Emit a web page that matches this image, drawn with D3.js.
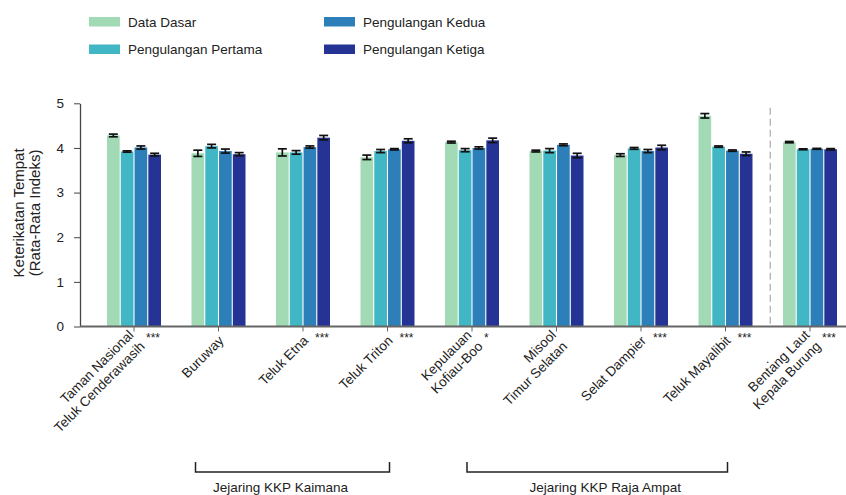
<!DOCTYPE html>
<html>
<head>
<meta charset="utf-8">
<script src="https://cdn.jsdelivr.net/npm/d3@7/dist/d3.min.js"></script>
<style>
  html, body { margin: 0; padding: 0; background: #fff; }
  svg text { font-family: "Liberation Sans", Arial, sans-serif; fill: #222; }
</style>
</head>
<body>
<div id="chart"></div>
<script>
// ---------- DATA ----------
const categories = [
  ["Taman Nasional", "Teluk Cenderawasih"],
  ["Buruway"],
  ["Teluk Etna"],
  ["Teluk Triton"],
  ["Kepulauan", "Kofiau-Boo"],
  ["Misool", "Timur Selatan"],
  ["Selat Dampier"],
  ["Teluk Mayalibit"],
  ["Bentang Laut", "Kepala Burung"]
];
const seriesNames = ["Data Dasar", "Pengulangan Pertama", "Pengulangan Kedua", "Pengulangan Ketiga"];
const seriesColors = ["#a1dab4", "#41b6c4", "#2c7fb8", "#253494"];

const dataDasar  = [4.28, 3.88, 3.90, 3.79, 4.13, 3.93, 3.84, 4.72, 4.13];
const pertama    = [3.92, 4.04, 3.90, 3.93, 3.95, 3.94, 3.99, 4.03, 3.97];
const kedua      = [4.01, 3.93, 4.02, 3.97, 4.00, 4.07, 3.93, 3.94, 3.98];
const ketiga     = [3.85, 3.86, 4.23, 4.16, 4.17, 3.83, 4.01, 3.87, 3.97];

const errDasar   = [0.03, 0.07, 0.08, 0.05, 0.02, 0.02, 0.03, 0.05, 0.015];
const errPertama = [0.015, 0.04, 0.04, 0.035, 0.035, 0.045, 0.02, 0.015, 0.01];
const errKedua   = [0.035, 0.045, 0.025, 0.015, 0.025, 0.02, 0.035, 0.015, 0.01];
const errKetiga  = [0.03, 0.035, 0.05, 0.045, 0.05, 0.05, 0.05, 0.04, 0.015];

const significance = ["***", "", "***", "***", "*", "", "***", "***", "***"];
const yTicks = [0, 1, 2, 3, 4, 5];
const yTitle = ["Keterikatan Tempat", "(Rata-Rata Indeks)"];
const groupNames = ["Jejaring KKP Kaimana", "Jejaring KKP Raja Ampat"];
const groupFrom = [1, 4];
const groupTo = [3, 7];

const values = [dataDasar, pertama, kedua, ketiga];
const errors = [errDasar, errPertama, errKedua, errKetiga];

// ---------- LAYOUT ----------
const W = 846, H = 495;
const svg = d3.select("#chart").append("svg").attr("width", W).attr("height", H);

const yAxisX = 80;
const y = d3.scaleLinear().domain([0, 5]).range([326.5, 103.3]);
const idx = d3.range(categories.length);
const x0 = d3.scaleBand().domain(idx).range([91.75, 852.25]).padding(0);
const groupW = 54;
const x1 = d3.scaleBand().domain(d3.range(4))
  .range([(x0.bandwidth() - groupW) / 2, (x0.bandwidth() + groupW) / 2])
  .paddingInner(0.08).paddingOuter(0);
const cxOf = i => x0(i) + x0.bandwidth() / 2;

// ---------- BARS ----------
const g = svg.append("g");
idx.forEach(i => {
  const gg = g.append("g").attr("transform", `translate(${x0(i)},0)`);
  d3.range(4).forEach(s => {
    const v = values[s][i];
    gg.append("rect")
      .attr("x", x1(s)).attr("width", x1.bandwidth())
      .attr("y", y(v)).attr("height", y(0) - y(v))
      .attr("fill", seriesColors[s]);
  });
  d3.range(4).forEach(s => {
    const v = values[s][i], e = errors[s][i];
    const cx = x1(s) + x1.bandwidth() / 2;
    const hw = 4.5;
    const eb = gg.append("g").attr("stroke", "#111").attr("stroke-width", 1.7).attr("fill", "none");
    eb.append("line").attr("x1", cx).attr("x2", cx).attr("y1", y(v - e)).attr("y2", y(v + e));
    eb.append("line").attr("x1", cx - hw).attr("x2", cx + hw).attr("y1", y(v + e)).attr("y2", y(v + e));
    eb.append("line").attr("x1", cx - hw).attr("x2", cx + hw).attr("y1", y(v - e)).attr("y2", y(v - e));
  });
});

// ---------- Y AXIS ----------
const yAxis = d3.axisLeft(y).tickValues(yTicks).tickFormat(d3.format("d")).tickSize(6).tickPadding(10).tickSizeOuter(0);
const ya = svg.append("g").attr("transform", `translate(${yAxisX},0)`).call(yAxis);
ya.select(".domain").attr("stroke", "#444").attr("stroke-width", 1.3);
ya.selectAll(".tick line").attr("stroke", "#444");
ya.selectAll(".tick text").style("font-size", "13.5px").attr("fill", "#222")
  .style("font-family", "'Liberation Sans', Arial, sans-serif");

// ---------- X AXIS ----------
const xa = svg.append("g").attr("transform", `translate(0,${y(0)})`)
  .call(d3.axisBottom(x0).tickSize(5).tickSizeOuter(0).tickFormat(""));
xa.select(".domain").remove();
xa.selectAll(".tick line").attr("stroke", "#666");
svg.append("line").attr("x1", yAxisX).attr("x2", W).attr("y1", y(0)).attr("y2", y(0))
  .attr("stroke", "#666").attr("stroke-width", 1.8);

// category labels
idx.forEach(i => {
  const cx = cxOf(i);
  const lines = categories[i];
  const t = svg.append("text")
    .attr("transform", `translate(${cx + 6},${y(0) + 15}) rotate(-45)`)
    .attr("text-anchor", "end").style("font-size", "13.5px");
  lines.forEach((ln, k) => {
    t.append("tspan").attr("x", 0).attr("y", (k - (lines.length - 1) / 2) * 16).text(ln);
  });
  if (significance[i]) {
    svg.append("text").attr("x", cx + 12).attr("y", y(0) + 15)
      .style("font-size", "12px").attr("text-anchor", "start").text(significance[i]);
  }
});

// stray dot near last category
svg.append("text").attr("x", x0(8)).attr("y", y(0) + 36)
  .attr("text-anchor", "middle").style("font-size", "12px").text(".");

// dashed separator
const sepX = (cxOf(7) + cxOf(8)) / 2 + 2.5;
svg.append("line").attr("x1", sepX).attr("x2", sepX).attr("y1", y(4.9)).attr("y2", y(0))
  .attr("stroke", "#aaa").attr("stroke-width", 1.2).attr("stroke-dasharray", "7,4");

// ---------- Y TITLE ----------
const yt = svg.append("text").attr("transform", `translate(0,${(y(0) + y(5)) / 2 - 2}) rotate(-90)`)
  .attr("text-anchor", "middle").style("font-size", "15px");
yTitle.forEach((ln, k) => {
  yt.append("tspan").attr("x", 0).attr("y", 23.5 + k * 16).text(ln);
});

// ---------- GROUP BRACKETS ----------
const bracketPad = [[-23, 2], [-5, 2]];
const labelShift = [-12, 8];
groupNames.forEach((name, j) => {
  const xl = cxOf(groupFrom[j]) + bracketPad[j][0];
  const xr = cxOf(groupTo[j]) + bracketPad[j][1];
  const yb = 472, yt2 = 462;
  svg.append("path")
    .attr("d", `M${xl},${yt2}V${yb}H${xr}V${yt2}`)
    .attr("fill", "none").attr("stroke", "#222").attr("stroke-width", 1.5);
  svg.append("text").attr("x", (xl + xr) / 2 + labelShift[j]).attr("y", 492)
    .attr("text-anchor", "middle").style("font-size", "13.5px").text(name);
});

// ---------- LEGEND ----------
const legendPos = [
  { x: 89, y: 17 }, { x: 89, y: 44.5 }, { x: 324, y: 17 }, { x: 324, y: 44.5 }
];
seriesNames.forEach((n, s) => {
  const p = legendPos[s];
  svg.append("rect").attr("x", p.x).attr("y", p.y).attr("width", 31).attr("height", 9.5)
    .attr("fill", seriesColors[s]);
  svg.append("text").attr("x", p.x + 39).attr("y", p.y + 9.5).style("font-size", "13.5px").text(n);
});
</script>
</body>
</html>
